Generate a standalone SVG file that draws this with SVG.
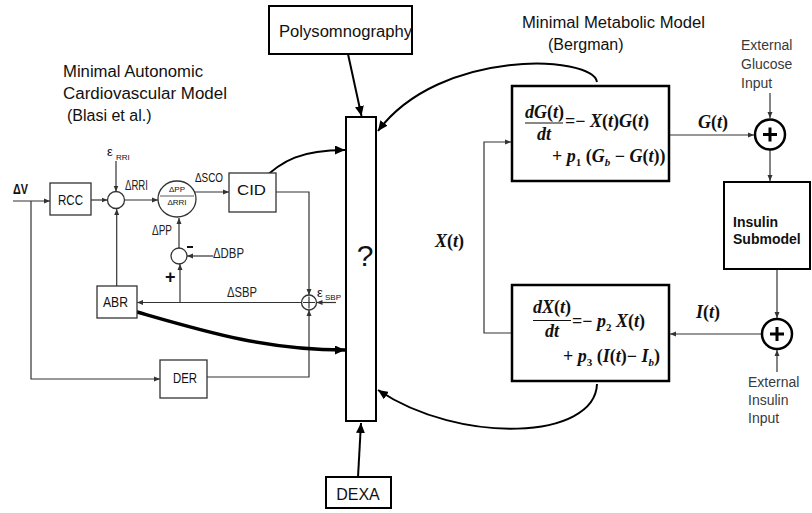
<svg xmlns="http://www.w3.org/2000/svg" width="812" height="513" viewBox="0 0 812 513">
<style>
.t{font-family:"Liberation Sans",Arial,sans-serif;fill:#111}
.title{font-size:16px}
.lbl{font-size:14px;fill:#222}
.ext{font-size:14px;fill:#3a3a3a}
.box{fill:#fff;stroke:#000;stroke-width:2}
.mbox{fill:#fff;stroke:#000;stroke-width:2.5}
.thin{fill:none;stroke:#333;stroke-width:1.2}
.sbox{fill:#fff;stroke:#333;stroke-width:1.3}
.eq{font-family:"Liberation Serif","Times New Roman",serif;font-style:italic;font-weight:bold;font-size:18px;fill:#111}
.up{font-style:normal}
.sub{font-size:11px}
.thick{fill:none;stroke:#000;stroke-width:2}
.sum{fill:#fff;stroke:#000;stroke-width:2.5}
</style>
<defs>
<marker id="ah" markerUnits="userSpaceOnUse" markerWidth="11" markerHeight="9" refX="10" refY="4.5" orient="auto"><path d="M0,0 L10,4.5 L0,9 z" fill="#000"/></marker>
<marker id="as" markerUnits="userSpaceOnUse" markerWidth="7" markerHeight="6" refX="6" refY="3" orient="auto"><path d="M0,0.5 L6,3 L0,5.5 z" fill="#333"/></marker>
</defs>

<!-- titles -->
<g id="titles" class="t title">
<text x="63" y="77" textLength="140" lengthAdjust="spacingAndGlyphs">Minimal Autonomic</text>
<text x="63" y="99" textLength="164" lengthAdjust="spacingAndGlyphs">Cardiovascular Model</text>
<text x="67" y="121">(Blasi et al.)</text>
<text x="522" y="28" textLength="183" lengthAdjust="spacingAndGlyphs">Minimal Metabolic Model</text>
<text x="548" y="50">(Bergman)</text>
</g>

<!-- connectors -->
<g id="connectors">
<!-- left model thin lines -->
<path class="thin" d="M13,201 H50" marker-end="url(#as)"/>
<path class="thin" d="M31,201 V379 H160" marker-end="url(#as)"/>
<path class="thin" d="M91,200 H107.5" marker-end="url(#as)"/>
<path class="thin" d="M116,161 V191.5" marker-end="url(#as)"/>
<path class="thin" d="M116.7,286 V209" marker-end="url(#as)"/>
<path class="thin" d="M124.5,200 H158" marker-end="url(#as)"/>
<path class="thin" d="M195,192 H229" marker-end="url(#as)"/>
<path class="thin" d="M179,248 V218" marker-end="url(#as)"/>
<path class="thin" d="M213,256 H187" marker-end="url(#as)"/>
<path class="thin" d="M180,302.5 V264" marker-end="url(#as)"/>
<path class="thin" d="M301.5,302.5 H137" marker-end="url(#as)"/>
<path class="thin" d="M276,192 H309 V295" marker-end="url(#as)"/>
<path class="thin" d="M207,377 H309 V310" marker-end="url(#as)"/>
<path class="thin" d="M336,302.5 H316.5" marker-end="url(#as)"/>
<!-- thick connectors to central box -->
<path class="thick" d="M261,181 C282,160 302,150 345,150" marker-end="url(#ah)"/>
<path fill="none" stroke="#000" stroke-width="3.5" d="M130,310 C200,330 262,350 345,350" marker-end="url(#ah)"/>
<path class="thick" d="M348,54 L361.5,116" marker-end="url(#ah)"/>
<path class="thick" d="M358,477 L361,423" marker-end="url(#ah)"/>
<path class="thick" d="M597,82 C592,55 440,48 378,131" marker-end="url(#ah)"/>
<path class="thick" d="M597,384 C595,440 460,445 378,390" marker-end="url(#ah)"/>
<!-- metabolic -->
<path class="thin" d="M512,333 H484 V142 H511" marker-end="url(#as)"/>
<path class="thin" d="M669,135 H754" marker-end="url(#as)"/>
<path class="thin" d="M770,93 V118" marker-end="url(#as)"/>
<path class="thin" d="M770,150 V181" marker-end="url(#as)"/>
<path class="thin" d="M777,269 V318" marker-end="url(#as)"/>
<path class="thin" d="M761.5,334 H670" marker-end="url(#as)"/>
<path class="thin" d="M777,372 V350" marker-end="url(#as)"/>
</g>

<!-- left model nodes -->
<g id="input-dv" class="t"><text x="13" y="194" font-size="14" font-weight="bold" textLength="15" lengthAdjust="spacingAndGlyphs">ΔV</text></g>
<g id="rcc"><rect class="sbox" x="50" y="183" width="41" height="32"/><text class="t" x="58" y="205" font-size="15" textLength="25" lengthAdjust="spacingAndGlyphs">RCC</text></g>
<g id="sum-rri"><circle class="sbox" cx="116" cy="200" r="8.5"/>
<text class="t" x="107" y="156" font-size="13">ε</text><text class="t" x="116" y="160" font-size="8">RRI</text>
<text class="t lbl" x="125" y="190" textLength="23" lengthAdjust="spacingAndGlyphs">ΔRRI</text></g>
<g id="pp-rri"><ellipse class="sbox" cx="177" cy="199" rx="19" ry="18"/>
<text class="t" x="177" y="192" font-size="8" text-anchor="middle">ΔPP</text>
<line x1="160" y1="196" x2="194" y2="196" stroke="#333" stroke-width="0.8"/>
<text class="t" x="177" y="205" font-size="8" text-anchor="middle">ΔRRI</text>
<text class="t" x="195" y="182" font-size="13" textLength="28" lengthAdjust="spacingAndGlyphs">ΔSCO</text></g>
<g id="cid"><rect class="sbox" x="229" y="173" width="47" height="39"/><text class="t" x="237" y="195" font-size="15" textLength="29" lengthAdjust="spacingAndGlyphs">CID</text></g>
<g id="sum-dbp"><circle class="sbox" cx="179" cy="256" r="8"/>
<text class="t lbl" x="152" y="235" textLength="20" lengthAdjust="spacingAndGlyphs">ΔPP</text>
<line x1="187" y1="247" x2="193" y2="247" stroke="#111" stroke-width="2"/>
<text class="t lbl" x="213" y="258" textLength="31" lengthAdjust="spacingAndGlyphs">ΔDBP</text>
<text class="t" x="165" y="283" font-size="18" font-weight="bold">+</text></g>
<g id="abr"><rect class="sbox" x="97" y="286" width="40" height="32"/><text class="t" x="103" y="307" font-size="15" textLength="25" lengthAdjust="spacingAndGlyphs">ABR</text></g>
<g id="sum-sbp"><circle class="sbox" cx="309" cy="302.5" r="7.5"/>
<path d="M303,302.5 H315 M309,296.5 V308.5" stroke="#333" stroke-width="1.2"/>
<text class="t lbl" x="227" y="297" textLength="30" lengthAdjust="spacingAndGlyphs">ΔSBP</text>
<text class="t" x="317" y="297" font-size="13">ε</text><text class="t" x="325" y="300" font-size="8">SBP</text></g>
<g id="der"><rect class="sbox" x="160" y="360" width="47" height="38"/><text class="t" x="173" y="383" font-size="15" textLength="24" lengthAdjust="spacingAndGlyphs">DER</text></g>

<!-- central -->
<g id="central"><rect class="box" x="346" y="117" width="30" height="304"/><text class="t" x="365" y="266" font-size="30" text-anchor="middle">?</text></g>
<g id="polysomnography"><rect class="box" x="269" y="6" width="143" height="48"/><text class="t" x="279" y="37" font-size="16" textLength="133" lengthAdjust="spacingAndGlyphs">Polysomnography</text></g>
<g id="dexa"><rect class="box" x="326" y="477" width="65" height="31"/><text class="t" x="358" y="500" font-size="16" text-anchor="middle">DEXA</text></g>

<!-- metabolic model -->
<g id="glucose-eq"><rect class="mbox" x="512" y="86" width="157" height="95"/>
<text class="eq" x="525" y="118">dG<tspan class="up">(</tspan>t<tspan class="up">)</tspan></text>
<line x1="525" y1="123" x2="563" y2="123" stroke="#111" stroke-width="1.2"/>
<text class="eq" x="544" y="140" text-anchor="middle">dt</text>
<text class="eq" x="565" y="127"><tspan class="up">=−</tspan> X<tspan class="up">(</tspan>t<tspan class="up">)</tspan>G<tspan class="up">(</tspan>t<tspan class="up">)</tspan></text>
<text class="eq" x="552" y="162"><tspan class="up">+</tspan> p<tspan class="sub up" dy="4">1</tspan><tspan class="up" dy="-4"> (</tspan>G<tspan class="sub" dy="4">b</tspan><tspan class="up" dy="-4"> − </tspan>G<tspan class="up">(</tspan>t<tspan class="up">))</tspan></text></g>
<g id="insulin-action-eq"><rect class="mbox" x="512" y="285" width="157" height="96"/>
<text class="eq" x="533" y="313">dX<tspan class="up">(</tspan>t<tspan class="up">)</tspan></text>
<line x1="533" y1="320.5" x2="571" y2="320.5" stroke="#111" stroke-width="1.2"/>
<text class="eq" x="552" y="337" text-anchor="middle">dt</text>
<text class="eq" x="572" y="327"><tspan class="up">=−</tspan> p<tspan class="sub up" dy="4">2</tspan><tspan dy="-4"> X</tspan><tspan class="up">(</tspan>t<tspan class="up">)</tspan></text>
<text class="eq" x="563" y="362"><tspan class="up">+</tspan> p<tspan class="sub up" dy="4">3</tspan><tspan class="up" dy="-4"> (</tspan>I<tspan class="up">(</tspan>t<tspan class="up">)− </tspan>I<tspan class="sub" dy="4">b</tspan><tspan class="up" dy="-4">)</tspan></text></g>
<g id="xt-label"><text class="eq" x="435" y="247" font-size="20">X<tspan class="up">(</tspan>t<tspan class="up">)</tspan></text></g>
<g id="gt-label"><text class="eq" x="698" y="128" font-size="19">G<tspan class="up">(</tspan>t<tspan class="up">)</tspan></text></g>
<g id="it-label"><text class="eq" x="696" y="318" font-size="19">I<tspan class="up">(</tspan>t<tspan class="up">)</tspan></text></g>
<g id="glucose-sum"><circle class="sum" cx="770" cy="134.5" r="15"/><path d="M763,134.5 H777 M770,127.5 V141.5" stroke="#000" stroke-width="3"/></g>
<g id="ext-glucose" class="t ext"><text x="741" y="50">External</text><text x="741" y="69">Glucose</text><text x="741" y="88">Input</text></g>
<g id="insulin-submodel"><rect class="box" x="724" y="182" width="86" height="87"/>
<text class="t" x="733" y="227" font-size="14" font-weight="bold">Insulin</text><text class="t" x="733" y="244" font-size="14" font-weight="bold">Submodel</text></g>
<g id="insulin-sum"><circle class="sum" cx="777" cy="334" r="15"/><path d="M770,334 H784 M777,327 V341" stroke="#000" stroke-width="3"/></g>
<g id="ext-insulin" class="t ext"><text x="748" y="387">External</text><text x="748" y="405">Insulin</text><text x="748" y="423">Input</text></g>
</svg>
